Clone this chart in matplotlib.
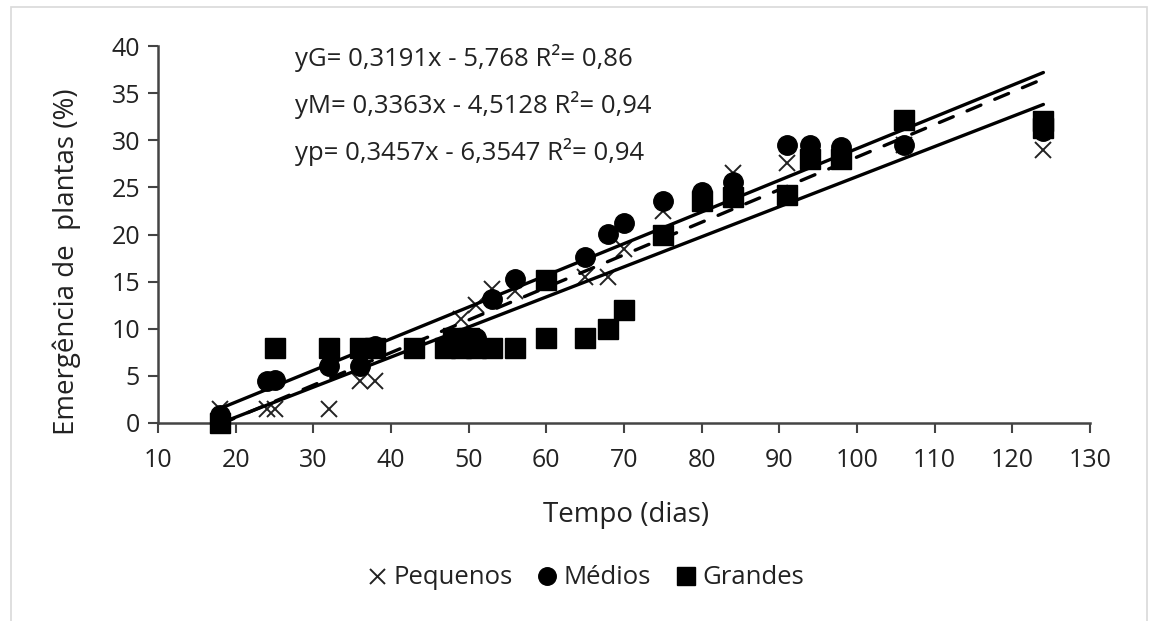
import numpy as np
import matplotlib
matplotlib.use("Agg")
import matplotlib.pyplot as plt
from matplotlib.patches import Rectangle

plt.rcParams['font.family'] = ['Open Sans', 'DejaVu Sans']

# Pequenos (x markers)
peq_x = [18, 24, 25, 32, 36, 38, 48, 49, 51, 53, 56, 60, 65, 68, 70, 75, 80, 84, 91, 94, 98, 106, 124]
peq_y = [1.5, 1.5, 1.5, 1.5, 4.5, 4.5, 9, 11, 12.5, 14.2, 14, 15, 15.5, 15.5, 18.5, 22.5, 24, 26.5, 27.6, 28, 28.5, 29.5, 29]

# Médios (circles)
med_x = [18, 24, 25, 32, 36, 38, 48, 50, 51, 53, 56, 65, 68, 70, 75, 80, 84, 91, 94, 98, 106, 124]
med_y = [0.8, 4.5, 4.6, 6, 6, 8.2, 9, 9, 9, 13.2, 15.3, 17.6, 20.1, 21.2, 23.6, 24.5, 25.6, 29.5, 29.5, 29.3, 29.5, 31]

# Grandes (squares)
gra_x = [18, 25, 32, 36, 38, 43, 47, 48, 49, 50, 51, 53, 56, 60, 60, 65, 68, 70, 75, 80, 84, 91, 94, 98, 106, 124, 124]
gra_y = [0, 8, 8, 8, 8, 8, 8, 9, 8, 9, 8, 8, 8, 9, 15.2, 9, 10, 12, 20, 23.6, 24, 24.2, 28, 28, 32.2, 32, 31.3]

# trend line coefficients (slope, intercept) as printed on the chart
coef_G = (0.3191, -5.768)
coef_M = (0.3363, -4.5128)
coef_P = (0.3457, -6.3547)
trend_range = (18, 124)

equations = [
    "yG= 0,3191x - 5,768 R²= 0,86",
    "yM= 0,3363x - 4,5128 R²= 0,94",
    "yp= 0,3457x - 6,3547 R²= 0,94",
]

W, H = 1149, 621
fig = plt.figure(figsize=(W / 100, H / 100), dpi=100)
ax = fig.add_axes([158 / W, 1 - 423 / H, (1090 - 158) / W, (423 - 46) / H])

# light outer frame
fig.add_artist(Rectangle((11 / W, -0.05), (1147 - 11) / W, 1.05 - 7 / H,
                         transform=fig.transFigure, fill=False,
                         edgecolor="#d9d9d9", lw=1.2))

ms = 14
ax.plot(peq_x, peq_y, "x", color="#222222", ms=12, mew=1.4, ls="none", zorder=3, label="Pequenos")
ax.plot(med_x, med_y, "o", color="black", ms=ms, ls="none", zorder=3, label="Médios")
ax.plot(gra_x, gra_y, "s", color="black", ms=ms, ls="none", zorder=3, label="Grandes")

xt = np.array(trend_range, dtype=float)
ax.plot(xt, coef_M[0] * xt + coef_M[1], color="black", lw=2.4, zorder=4,
        solid_capstyle="round")
ax.plot(xt, coef_G[0] * xt + coef_G[1], color="black", lw=2.4, zorder=4,
        solid_capstyle="round")
ax.plot(xt, coef_P[0] * xt + coef_P[1], color="black", lw=2.4, zorder=4,
        dashes=(4.5, 4.5), dash_capstyle="round")

ax.set_xlim(10, 130)
ax.set_ylim(0, 40)
ax.set_xticks(np.arange(10, 131, 10))
ax.set_yticks(np.arange(0, 41, 5))

for s in ["top", "right"]:
    ax.spines[s].set_visible(False)
for s in ["left", "bottom"]:
    ax.spines[s].set_color("#444444")
    ax.spines[s].set_linewidth(1.8)
ax.tick_params(axis="both", direction="out", length=7, width=1.5,
               color="#444444", labelsize=18, labelcolor="#222222")
ax.tick_params(axis="x", pad=11)
ax.tick_params(axis="y", pad=6)
for ln in ax.lines:
    ln.set_clip_on(False)

fig.text(626 / W, 1 - 515 / H, "Tempo (dias)", ha="center", va="center",
         fontsize=20, color="#222222")
fig.text(67 / W, 1 - 262 / H, "Emergência de  plantas (%)", ha="center", va="center",
         rotation=90, fontsize=20, color="#222222")

for i, eq in enumerate(equations):
    fig.text(295 / W, 1 - (58 + i * 47) / H, eq, ha="left", va="center",
             fontsize=18.5, color="#222222")

leg = fig.legend(handles=ax.lines[:3], loc="center", bbox_to_anchor=(586 / W, 1 - 578 / H),
                 ncol=3, frameon=False, fontsize=18.5, handlelength=0.7,
                 handletextpad=0.3, columnspacing=1.0, markerscale=0.9)
for t in leg.get_texts():
    t.set_color("#222222")

fig.savefig("out.png", dpi=100)
